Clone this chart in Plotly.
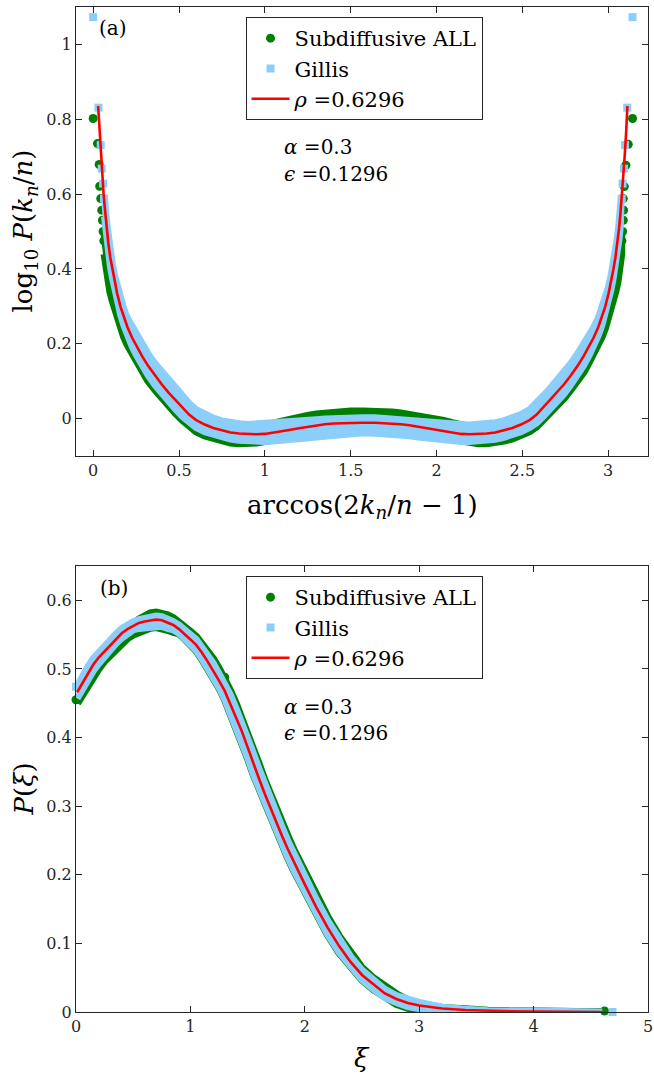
import plotly.graph_objects as go

# ---------------- panel (a) data ----------------
top_x = [0.029, 0.037, 0.046, 0.053, 0.060, 0.066, 0.071, 0.079, 0.088, 0.100, 0.112, 0.125, 0.140, 0.160, 0.179,
         0.200, 0.227, 0.250, 0.285, 0.320, 0.362, 0.400, 0.438, 0.480, 0.520, 0.560, 0.600, 0.650, 0.700, 0.750,
         0.800, 0.850, 0.900, 0.950, 1.000, 1.050, 1.100, 1.150, 1.200, 1.250, 1.300, 1.350, 1.400, 1.450, 1.500,
         1.571,
         1.642, 1.692, 1.742, 1.792, 1.842, 1.892, 1.942, 1.992, 2.042, 2.092, 2.142, 2.192, 2.242, 2.292, 2.342,
         2.392, 2.442, 2.492, 2.542, 2.582, 2.622, 2.662, 2.704, 2.742, 2.780, 2.822, 2.857, 2.892, 2.915, 2.942,
         2.963, 2.982, 3.002, 3.017, 3.030, 3.042, 3.054, 3.063, 3.071, 3.076, 3.082, 3.089, 3.096, 3.105, 3.112]

top_red_y = [0.835, 0.768, 0.700, 0.652, 0.605, 0.572, 0.545, 0.507, 0.470, 0.430, 0.398, 0.366, 0.334, 0.298, 0.270,
             0.244, 0.216, 0.195, 0.167, 0.141, 0.114, 0.091, 0.070, 0.049, 0.030, 0.010, -0.004, -0.016, -0.025, -0.032,
             -0.037, -0.040, -0.042, -0.042, -0.041, -0.038, -0.034, -0.030, -0.026, -0.022, -0.018, -0.015, -0.013, -0.012, -0.011,
             -0.011,
             -0.011, -0.012, -0.013, -0.015, -0.018, -0.022, -0.026, -0.030, -0.034, -0.038, -0.041, -0.042, -0.042, -0.040, -0.037,
             -0.032, -0.025, -0.016, -0.004, 0.010, 0.030, 0.049, 0.070, 0.091, 0.114, 0.141, 0.167, 0.195, 0.216, 0.244,
             0.270, 0.298, 0.334, 0.366, 0.398, 0.430, 0.470, 0.507, 0.545, 0.572, 0.605, 0.652, 0.700, 0.768, 0.835]

# spread (lowest / highest point) of the dense data clouds, on top_x[5:-5]
top_gillis_lo = [0.540, 0.515, 0.480, 0.445, 0.408, 0.377, 0.346, 0.314, 0.278, 0.249, 0.222, 0.193, 0.172, 0.142,
                 0.116, 0.089, 0.066, 0.045, 0.025, 0.006, -0.012, -0.024, -0.035, -0.043, -0.050, -0.055, -0.058,
                 -0.060, -0.061, -0.061, -0.060, -0.058, -0.055, -0.052, -0.049, -0.046, -0.044, -0.042, -0.040, -0.039,
                 -0.038,
                 -0.039, -0.040, -0.042, -0.044, -0.046, -0.049, -0.052, -0.055, -0.058, -0.060, -0.061, -0.061, -0.060,
                 -0.058, -0.055, -0.050, -0.043, -0.035, -0.024, -0.012, 0.006, 0.025, 0.045, 0.066, 0.089, 0.116,
                 0.142, 0.172, 0.193, 0.222, 0.249, 0.278, 0.314, 0.346, 0.377, 0.408, 0.445, 0.480, 0.515, 0.540]
top_gillis_hi = [0.590, 0.562, 0.522, 0.485, 0.444, 0.412, 0.382, 0.352, 0.318, 0.291, 0.268, 0.243, 0.224, 0.199,
                 0.173, 0.146, 0.123, 0.102, 0.081, 0.061, 0.040, 0.024, 0.011, 0.001, -0.006, -0.011, -0.014,
                 -0.016, -0.017, -0.016, -0.014, -0.012, -0.009, -0.007, -0.005, -0.003, -0.001, 0.000, 0.001, 0.002,
                 0.002,
                 0.002, 0.001, 0.000, -0.001, -0.003, -0.005, -0.007, -0.009, -0.012, -0.014, -0.016, -0.017, -0.016,
                 -0.014, -0.011, -0.006, 0.001, 0.011, 0.024, 0.040, 0.061, 0.081, 0.102, 0.123, 0.146, 0.173,
                 0.199, 0.224, 0.243, 0.268, 0.291, 0.318, 0.352, 0.382, 0.412, 0.444, 0.485, 0.522, 0.562, 0.590]
top_sub_lo = [0.440, 0.420, 0.392, 0.365, 0.340, 0.318, 0.295, 0.272, 0.243, 0.220, 0.198, 0.174, 0.155, 0.125,
              0.102, 0.077, 0.055, 0.035, 0.015, -0.003, -0.021, -0.034, -0.045, -0.053, -0.059, -0.064, -0.066,
              -0.066, -0.064, -0.060, -0.056, -0.051, -0.047, -0.043, -0.040, -0.037, -0.035, -0.034, -0.033, -0.032,
              -0.031,
              -0.032, -0.033, -0.034, -0.035, -0.037, -0.040, -0.043, -0.047, -0.051, -0.056, -0.060, -0.064, -0.066,
              -0.066, -0.064, -0.059, -0.053, -0.045, -0.034, -0.021, -0.003, 0.015, 0.035, 0.055, 0.077, 0.102,
              0.125, 0.155, 0.174, 0.198, 0.220, 0.243, 0.272, 0.295, 0.318, 0.340, 0.365, 0.392, 0.420, 0.440]
top_sub_hi = [0.500, 0.478, 0.446, 0.415, 0.385, 0.360, 0.335, 0.310, 0.280, 0.256, 0.234, 0.207, 0.188, 0.163,
              0.138, 0.111, 0.088, 0.068, 0.047, 0.029, 0.010, -0.002, -0.013, -0.020, -0.026, -0.030, -0.030,
              -0.028, -0.024, -0.018, -0.012, -0.006, -0.001, 0.003, 0.007, 0.011, 0.014, 0.016, 0.018, 0.019,
              0.019,
              0.019, 0.018, 0.016, 0.014, 0.011, 0.007, 0.003, -0.001, -0.006, -0.012, -0.018, -0.024, -0.028,
              -0.030, -0.030, -0.026, -0.020, -0.013, -0.002, 0.010, 0.029, 0.047, 0.068, 0.088, 0.111, 0.138,
              0.163, 0.188, 0.207, 0.234, 0.256, 0.280, 0.310, 0.335, 0.360, 0.385, 0.415, 0.446, 0.478, 0.500]

# sparse points near the two ends of panel (a)
top_sub_edge_x = [0.000, 0.025, 0.035, 0.038, 0.044, 0.050, 0.054, 0.058, 0.062,
                  3.080, 3.084, 3.088, 3.090, 3.088, 3.094, 3.103, 3.117, 3.142]
top_sub_edge_y = [0.802, 0.735, 0.679, 0.621, 0.588, 0.557, 0.530, 0.500, 0.475,
                  0.475, 0.500, 0.530, 0.557, 0.588, 0.620, 0.677, 0.733, 0.802]
top_gillis_edge_x = [0.000, 0.031, 0.044, 0.050, 0.058, 0.063,
                     3.079, 3.084, 3.092, 3.098, 3.111, 3.142]
top_gillis_edge_y = [1.073, 0.831, 0.731, 0.668, 0.628, 0.588,
                     0.588, 0.628, 0.668, 0.731, 0.831, 1.073]

# ---------------- panel (b) data ----------------
bot_x = [0.01, 0.05, 0.10, 0.15, 0.20, 0.25, 0.30, 0.35, 0.40, 0.45, 0.50, 0.55, 0.60, 0.65, 0.70, 0.75, 0.80, 0.85,
         0.90, 0.95, 1.00, 1.05, 1.10, 1.15, 1.20, 1.25, 1.30, 1.35, 1.40, 1.45, 1.50, 1.55, 1.60, 1.65, 1.70, 1.75,
         1.80, 1.85, 1.90, 1.95, 2.00, 2.10, 2.20, 2.30, 2.40, 2.50, 2.60, 2.70, 2.80, 2.90, 3.00, 3.20, 3.40, 3.60,
         3.80, 4.00, 4.20, 4.40, 4.60]

bot_red_y = [0.466, 0.478, 0.493, 0.506, 0.517, 0.526, 0.535, 0.544, 0.552, 0.558, 0.563, 0.567, 0.569, 0.571, 0.572,
             0.571, 0.568, 0.564, 0.558, 0.551, 0.543, 0.535, 0.524, 0.511, 0.498, 0.483, 0.468, 0.449, 0.429, 0.409,
             0.386, 0.362, 0.340, 0.318, 0.297, 0.277, 0.257, 0.238, 0.220, 0.203, 0.186, 0.153, 0.123, 0.096, 0.073,
             0.054, 0.040, 0.027, 0.019, 0.013, 0.0095, 0.005, 0.003, 0.0015, 0.001, 0.0005, 0.0003, 0.0002, 0.0001]

bot_gillis_lo = [0.457, 0.469, 0.484, 0.497, 0.508, 0.519, 0.528, 0.537, 0.545, 0.552, 0.557, 0.559, 0.560, 0.562,
                 0.563, 0.562, 0.559, 0.557, 0.552, 0.544, 0.536, 0.527, 0.515, 0.502, 0.488, 0.473, 0.456, 0.436,
                 0.416, 0.395, 0.371, 0.347, 0.326, 0.304, 0.284, 0.264, 0.244, 0.226, 0.208, 0.192, 0.175, 0.142,
                 0.113, 0.087, 0.065, 0.047, 0.033, 0.021, 0.014, 0.008, 0.005, 0.003, 0.002, 0.001, 0.000, 0.000,
                 0.000, 0.000, 0.000]
bot_gillis_hi = [0.475, 0.487, 0.502, 0.515, 0.526, 0.533, 0.542, 0.551, 0.559, 0.564, 0.569, 0.572, 0.574, 0.576,
                 0.577, 0.576, 0.573, 0.569, 0.564, 0.558, 0.550, 0.543, 0.533, 0.520, 0.508, 0.493, 0.480, 0.462,
                 0.442, 0.423, 0.401, 0.377, 0.354, 0.332, 0.310, 0.290, 0.270, 0.250, 0.232, 0.214, 0.197, 0.164,
                 0.133, 0.105, 0.081, 0.061, 0.047, 0.033, 0.024, 0.018, 0.014, 0.007, 0.004, 0.002, 0.002, 0.001,
                 0.001, 0.001, 0.000]
bot_sub_lo = [0.450, 0.462, 0.477, 0.490, 0.501, 0.512, 0.521, 0.530, 0.538, 0.545, 0.550, 0.554, 0.558, 0.560,
              0.561, 0.560, 0.557, 0.554, 0.552, 0.544, 0.536, 0.527, 0.515, 0.502, 0.488, 0.473, 0.456, 0.436,
              0.416, 0.395, 0.371, 0.347, 0.326, 0.304, 0.284, 0.264, 0.244, 0.226, 0.208, 0.192, 0.175, 0.142,
              0.113, 0.087, 0.065, 0.047, 0.033, 0.021, 0.012, 0.006, 0.003, -0.001, -0.003, -0.004, -0.005, -0.005,
              -0.005, -0.005, -0.004]
bot_sub_hi = [0.471, 0.483, 0.498, 0.511, 0.522, 0.529, 0.538, 0.547, 0.555, 0.560, 0.565, 0.572, 0.578, 0.581,
              0.582, 0.581, 0.578, 0.574, 0.568, 0.562, 0.554, 0.547, 0.538, 0.526, 0.514, 0.500, 0.485, 0.467,
              0.448, 0.429, 0.407, 0.383, 0.360, 0.337, 0.316, 0.296, 0.275, 0.256, 0.237, 0.219, 0.202, 0.169,
              0.138, 0.110, 0.085, 0.064, 0.049, 0.036, 0.026, 0.017, 0.012, 0.006, 0.004, 0.002, 0.001, 0.001,
              0.000, 0.000, 0.000]

bot_sub_edge_x = [0.00, 1.30, 4.62]
bot_sub_edge_y = [0.455, 0.488, 0.0015]
bot_gillis_edge_x = [0.00, 4.69]
bot_gillis_edge_y = [0.474, 0.000]

# ---------------- labels ----------------
legend_names = ["Subdiffusive ALL", "Gillis", "<i>ρ</i> =0.6296"]
param_texts = ["<i>α</i> =0.3", "<i>ϵ</i> =0.1296"]
top_xticks = [0, 0.5, 1, 1.5, 2, 2.5, 3]
top_xtick_text = ["0", "0.5", "1", "1.5", "2", "2.5", "3"]
top_yticks = [0, 0.2, 0.4, 0.6, 0.8, 1]
top_ytick_text = ["0", "0.2", "0.4", "0.6", "0.8", "1"]
bot_xticks = [0, 1, 2, 3, 4, 5]
bot_xtick_text = ["0", "1", "2", "3", "4", "5"]
bot_yticks = [0, 0.1, 0.2, 0.3, 0.4, 0.5, 0.6]
bot_ytick_text = ["0", "0.1", "0.2", "0.3", "0.4", "0.5", "0.6"]

GREEN = "rgb(0,128,0)"
BLUE = "rgb(140,206,250)"
RED = "rgb(255,0,0)"
AX = "#262626"
FONT = "DejaVu Serif"

W, H = 654, 1079
ML, MR, MT, MB = 76, 1, 7, 67
PW, PH = W - ML - MR, H - MT - MB


def px(x):
    return (x - ML) / PW


def py(y):
    return (H - MB - y) / PH


fig = go.Figure()


def cloud(x, lo, hi, color, stroke, xa, ya):
    fig.add_trace(go.Scatter(x=list(x) + list(x)[::-1], y=list(lo) + list(hi)[::-1], mode="lines",
                             fill="toself", fillcolor=color, line=dict(color=color, width=stroke),
                             showlegend=False, hoverinfo="skip", xaxis=xa, yaxis=ya))


def add_panel(xa, ya, legend, x, red_y, band_x, g_lo, g_hi, s_lo, s_hi,
              sub_ex, sub_ey, gil_ex, gil_ey):
    cloud(band_x, s_lo, s_hi, GREEN, 8, xa, ya)
    fig.add_trace(go.Scatter(x=sub_ex, y=sub_ey, mode="markers", name=legend_names[0],
                             marker=dict(color=GREEN, size=9, symbol="circle"), legend=legend,
                             cliponaxis=False, xaxis=xa, yaxis=ya))
    cloud(band_x, g_lo, g_hi, BLUE, 7, xa, ya)
    fig.add_trace(go.Scatter(x=gil_ex, y=gil_ey, mode="markers", name=legend_names[1],
                             marker=dict(color=BLUE, size=8, symbol="square"), legend=legend,
                             cliponaxis=False, xaxis=xa, yaxis=ya))
    fig.add_trace(go.Scatter(x=x, y=red_y, mode="lines", name=legend_names[2],
                             line=dict(color=RED, width=2.6), legend=legend, xaxis=xa, yaxis=ya))


add_panel("x", "y", "legend", top_x, top_red_y, top_x[5:-5], top_gillis_lo, top_gillis_hi,
          top_sub_lo, top_sub_hi, top_sub_edge_x, top_sub_edge_y, top_gillis_edge_x, top_gillis_edge_y)
add_panel("x2", "y2", "legend2", bot_x, bot_red_y, bot_x, bot_gillis_lo, bot_gillis_hi,
          bot_sub_lo, bot_sub_hi, bot_sub_edge_x, bot_sub_edge_y, bot_gillis_edge_x, bot_gillis_edge_y)

axis_common = dict(showline=True, linecolor=AX, linewidth=1, mirror="ticks", ticks="inside", ticklen=6,
                   tickwidth=1, tickcolor=AX, showgrid=False, zeroline=False, ticklabeloverflow="allow",
                   tickfont=dict(family=FONT, size=16, color=AX))

top_dom = [py(456), 1.0]
bot_dom = [0.0, py(566)]

leg_common = dict(xanchor="left", yanchor="top", bgcolor="white", bordercolor=AX, borderwidth=1,
                  font=dict(family=FONT, size=21, color="black"), itemwidth=38, tracegroupgap=0)

fig.update_layout(
    width=W, height=H, margin=dict(l=ML, r=MR, t=MT, b=MB),
    paper_bgcolor="white", plot_bgcolor="white",
    xaxis=dict(domain=[0, 1], range=[-0.1, 3.232], tickvals=top_xticks, ticktext=top_xtick_text,
               anchor="y", **axis_common),
    yaxis=dict(domain=top_dom, range=[-0.1, 1.1], tickvals=top_yticks, ticktext=top_ytick_text,
               anchor="x", **axis_common),
    xaxis2=dict(domain=[0, 1], range=[0, 5], tickvals=bot_xticks, ticktext=bot_xtick_text,
                anchor="y2", **axis_common),
    yaxis2=dict(domain=bot_dom, range=[0, 0.65], tickvals=bot_yticks, ticktext=bot_ytick_text,
                anchor="x2", **axis_common),
    legend=dict(x=px(247), y=py(17), **leg_common),
    legend2=dict(x=px(247), y=py(576), **leg_common),
    showlegend=True,
)

ann_font = dict(family=FONT, size=20, color="black")
lab_font = dict(family=FONT, size=26, color="black")
annotations = [
    dict(text="(a)", x=px(97), y=py(28), xanchor="left", yanchor="middle", font=ann_font),
    dict(text=param_texts[0], x=px(284), y=py(147), xanchor="left", yanchor="middle", font=ann_font),
    dict(text=param_texts[1], x=px(284), y=py(174), xanchor="left", yanchor="middle", font=ann_font),
    dict(text="(b)", x=px(98), y=py(588), xanchor="left", yanchor="middle", font=ann_font),
    dict(text=param_texts[0], x=px(284), y=py(707), xanchor="left", yanchor="middle", font=ann_font),
    dict(text=param_texts[1], x=px(284), y=py(733), xanchor="left", yanchor="middle", font=ann_font),
    dict(text="log<sub>10</sub> <i>P</i>(<i>k<sub>n</sub></i>/<i>n</i>)", x=px(24), y=py(231),
         textangle=-90, xanchor="center", yanchor="middle", font=lab_font),
    dict(text="arccos(2<i>k<sub>n</sub></i>/<i>n</i> − 1)", x=px(365), y=py(507),
         xanchor="center", yanchor="middle", font=lab_font),
    dict(text="<i>P</i>(<i>ξ</i>)", x=px(24), y=py(789), textangle=-90,
         xanchor="center", yanchor="middle", font=lab_font),
    dict(text="<i>ξ</i>", x=px(365), y=py(1058), xanchor="center", yanchor="middle", font=lab_font),
]
for a in annotations:
    a.update(xref="paper", yref="paper", showarrow=False)
fig.update_layout(annotations=annotations)

fig.write_html("out.html", config={"displayModeBar": False},
               post_script="document.body.style.margin='0';document.body.style.overflow='hidden';")
